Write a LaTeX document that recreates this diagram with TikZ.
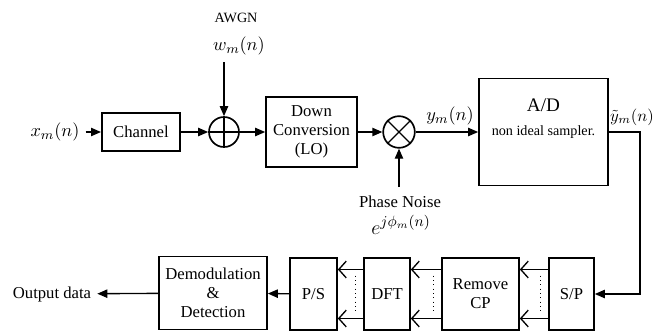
\documentclass[tikz,border=0pt]{standalone}
\usepackage{fontspec}
\setmainfont{Liberation Serif}
\usetikzlibrary{arrows.meta}
\begin{document}
\begin{tikzpicture}[x=0.6pt,y=-0.6pt,line width=0.8pt,
    blk/.style={draw,line width=1pt,inner sep=0pt,align=center,font=\fontsize{10}{11.5}\selectfont},
    sig/.style={font=\fontsize{11}{13}\selectfont},
    txt/.style={font=\fontsize{10}{12}\selectfont},
    ring/.style={draw,circle,line width=1pt,inner sep=0pt},
    >={Triangle[length=6pt,width=5pt]},
    barb/.style={-{Straight Barb[length=4.5pt,width=10pt]}}]
    \useasboundingbox (0,0) rectangle (655,332);
    \node[sig] (xin) at (55,132) {$x_m(n)$};
    \node[blk,minimum width=47pt,minimum height=23pt] (ch) at (141,132) {Channel};
    \node[ring,minimum size=18pt] (s) at (224,132) {};
    \draw (s.north) -- (s.south) (s.west) -- (s.east);
    \node[font=\fontsize{8.5}{10}\selectfont] (awgn) at (236,18) {AWGN};
    \node[sig] (w) at (239,46) {$w_m(n)$};
    \coordinate (wt) at (224,62);
    \node[blk,minimum width=54.6pt,minimum height=42pt] (dc) at (311.5,132) {Down\\Conversion\\(LO)};
    \node[ring,minimum size=19pt] (m) at (399,132) {};
    \draw (m.north west) -- (m.south east) (m.north east) -- (m.south west);
    \coordinate (pt) at (399,187);
    \node[txt] (pn) at (400,202) {Phase Noise};
    \node[font=\fontsize{13}{15}\selectfont] (ph) at (401,225) {$e^{j\phi_m(n)}$};
    \node[sig] (y) at (450,116) {$y_m(n)$};
    \node[blk,minimum width=77.4pt,minimum height=64.2pt] (ad) at (543.5,132) {};
    \node[font=\fontsize{11.5}{13}\selectfont] (adt) at (543.5,105) {A/D};
    \node[font=\fontsize{8.5}{10}\selectfont] (ads) at (543.5,132) {non ideal sampler.};
    \node[font=\fontsize{10}{12}\selectfont] (yt) at (632,117) {$\tilde{y}_m(n)$};
    \coordinate (c1) at (640,132);
    \coordinate (c2) at (640,294);
    \node[blk,minimum width=27pt,minimum height=43.2pt] (sp) at (571.5,294) {S/P};
    \node[blk,minimum width=46.2pt,minimum height=43.2pt] (rcp) at (480.5,294) {Remove\\CP};
    \node[blk,minimum width=27.6pt,minimum height=43.2pt] (dft) at (387,294) {DFT};
    \node[blk,minimum width=28.2pt,minimum height=43.2pt] (ps) at (313.5,294) {P/S};
    \node[blk,minimum width=64.8pt,minimum height=43.8pt] (dem) at (213,293) {Demodulation\\\&\\Detection};
    \node[txt] (out) at (52,294) {Output data};
    \draw [->] (xin) -- (ch) ;
    \draw [->] (ch) -- (s) ;
    \draw [->] (wt) -- (s) ;
    \draw [->] (s) -- (dc) ;
    \draw [->] (dc) -- (m) ;
    \draw [->] (pt) -- (m) ;
    \draw [->] (m) -- (ad) ;
    \draw [->] (ad.east) -- (c1) -- (c2) -- (sp.east) ;
    \foreach \a/\b in {sp/rcp,rcp/dft,dft/ps} {
        \draw [barb] ([yshift=14.7pt]\a.west) -- ([yshift=14.7pt]\b.east) ;
        \draw [barb] ([yshift=-14.7pt]\a.west) -- ([yshift=-14.7pt]\b.east) ;
        \draw [dotted,line width=0.6pt] ([xshift=-4.8pt,yshift=11pt]\a.west) -- ([xshift=-4.8pt,yshift=-11pt]\a.west) ;
    }
    \draw [->] (ps) -- (dem) ;
    \draw [->] (dem) -- (out) ;
\end{tikzpicture}
\end{document}
